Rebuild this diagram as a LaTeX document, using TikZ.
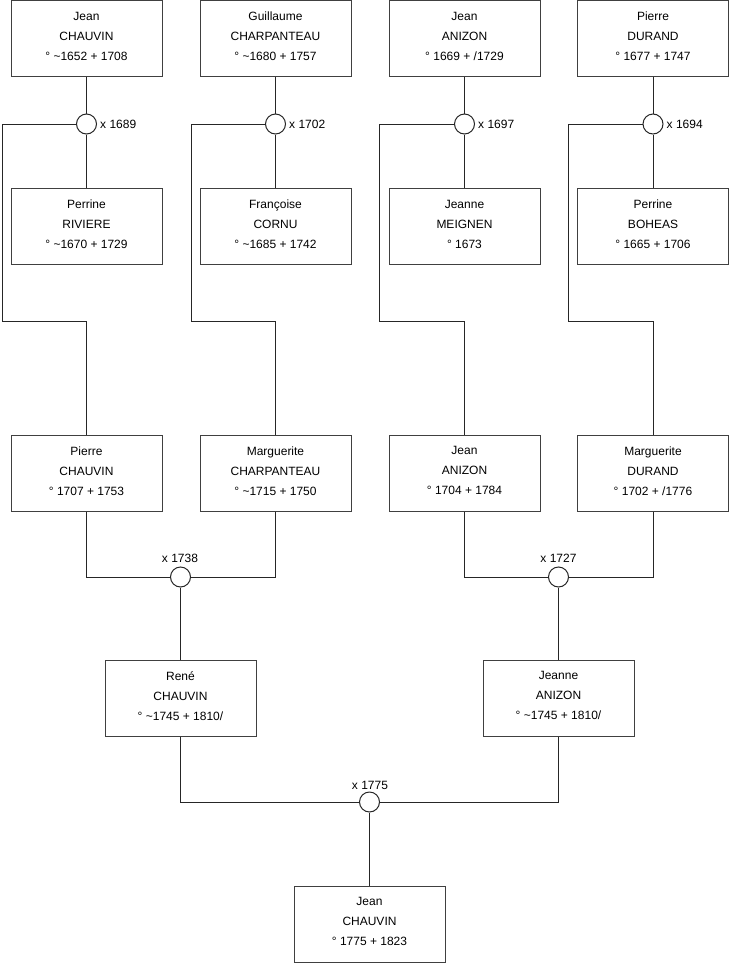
\documentclass[tikz,border=0pt]{standalone}
\usepackage{fontspec}
\setmainfont{Liberation Sans}
\begin{document}
\begin{tikzpicture}[x=1pt,y=-1pt,
  person/.style={draw=black!75, line width=1pt, fill=white, minimum width=151pt, minimum height=76pt,
    inner sep=0pt, align=center, text depth=4.5pt, font=\fontsize{12}{20}\selectfont},
  union/.style={circle, draw=black!85, line width=1pt, fill=white, minimum size=20pt, inner sep=0pt},
  lbl/.style={font=\fontsize{12}{14}\selectfont, inner sep=0pt},
  link/.style={draw=black!85, line width=1pt}]
\useasboundingbox (0,0) rectangle (740,975);
\fill[white] (0,0) rectangle (740,975);
% top row
\node[person] (t1) at (86.5,38.5) {Jean\\CHAUVIN\\° \textasciitilde1652 + 1708};
\node[person] (t2) at (275.5,38.5) {Guillaume\\CHARPANTEAU\\° \textasciitilde1680 + 1757};
\node[person] (t3) at (464.5,38.5) {Jean\\ANIZON\\° 1669 + /1729};
\node[person] (t4) at (653,38.5) {Pierre\\DURAND\\° 1677 + 1747};
% second row
\node[person] (w1) at (86.5,226.5) {Perrine\\RIVIERE\\° \textasciitilde1670 + 1729};
\node[person] (w2) at (275.5,226.5) {Françoise\\CORNU\\° \textasciitilde1685 + 1742};
\node[person] (w3) at (464.5,226.5) {Jeanne\\MEIGNEN\\° 1673};
\node[person] (w4) at (653,226.5) {Perrine\\BOHEAS\\° 1665 + 1706};
% third row
\node[person] (p1) at (86.5,473) {Pierre\\CHAUVIN\\° 1707 + 1753};
\node[person] (p2) at (275.5,473) {Marguerite\\CHARPANTEAU\\° \textasciitilde1715 + 1750};
\node[person] (p3) at (464.5,473) {Jean\\ANIZON\\° 1704 + 1784};
\node[person] (p4) at (653,473) {Marguerite\\DURAND\\° 1702 + /1776};
% fourth row
\node[person] (r1) at (180.5,698) {René\\CHAUVIN\\° \textasciitilde1745 + 1810/};
\node[person] (r2) at (558.5,698) {Jeanne\\ANIZON\\° \textasciitilde1745 + 1810/};
% bottom
\node[person] (b) at (369.5,924) {Jean\\CHAUVIN\\° 1775 + 1823};
% unions
\node[union] (c1) at (86.5,124) {};
\node[union] (c2) at (275.5,124) {};
\node[union] (c3) at (464.5,124) {};
\node[union] (c4) at (653,124) {};
\node[union] (m1) at (180.5,577) {};
\node[union] (m2) at (558.5,577) {};
\node[union] (m3) at (369.5,802) {};
% union labels
\node[lbl, anchor=west] (l1) at (100,124) {x 1689};
\node[lbl, anchor=west] (l2) at (289,124) {x 1702};
\node[lbl, anchor=west] (l3) at (478,124) {x 1697};
\node[lbl, anchor=west] (l4) at (666.5,124) {x 1694};
\node[lbl] (l5) at (180,558) {x 1738};
\node[lbl] (l6) at (558.5,558) {x 1727};
\node[lbl] (l7) at (370,785) {x 1775};
% corner coordinates
\coordinate (k1) at (2,321.5);
\coordinate (k2) at (191,321.5);
\coordinate (k3) at (379.5,321.5);
\coordinate (k4) at (568,321.5);
% connectors
\foreach \i in {1,2,3,4}{
  \draw[link] (t\i) -- (c\i);
  \draw[link] (c\i) -- (w\i);
  \draw[link] (c\i.west) -| (k\i) -| (p\i.north);
}
\draw[link] (p1.south) |- (m1.west);
\draw[link] (p2.south) |- (m1.east);
\draw[link] (p3.south) |- (m2.west);
\draw[link] (p4.south) |- (m2.east);
\draw[link] (m1) -- (r1);
\draw[link] (m2) -- (r2);
\draw[link] (r1.south) |- (m3.west);
\draw[link] (r2.south) |- (m3.east);
\draw[link] (m3) -- (b);
\end{tikzpicture}
\end{document}
